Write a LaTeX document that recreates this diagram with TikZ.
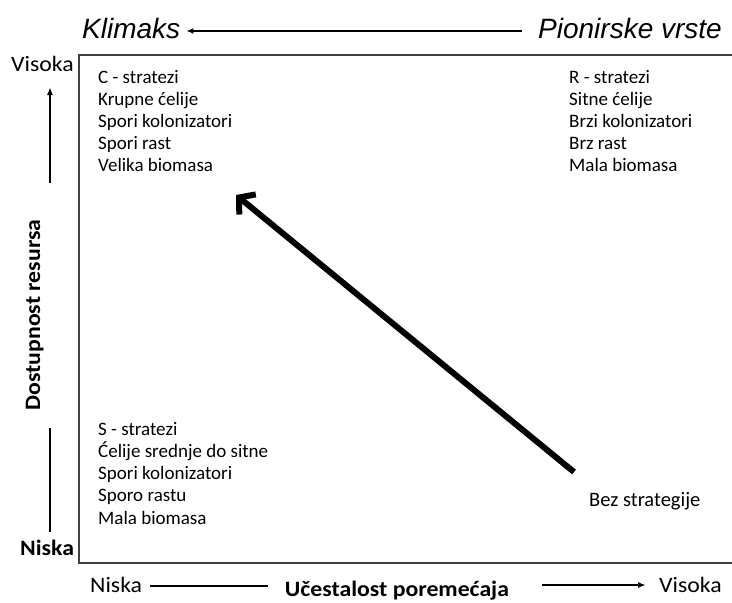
\documentclass[tikz,border=0pt]{standalone}
\usepackage{fontspec}
\setmainfont{Carlito}
\newfontfamily\arialfont{Liberation Sans}
\newfontfamily\axisfont{Carlito}[FakeStretch=1.08]
\usetikzlibrary{arrows.meta}

\begin{document}
\begin{tikzpicture}[
        x=1pt, y=-1pt,
        every node/.style={inner sep=0pt, font=\fontsize{19}{22}\selectfont},
        txt/.style={anchor=base west},
        bigtxt/.style={anchor=base west, font=\arialfont\itshape\fontsize{28}{30}\selectfont},
        axtxt/.style={anchor=base west, font=\axisfont\fontsize{22}{24}\selectfont},
        axbold/.style={font=\axisfont\bfseries\fontsize{22}{24}\selectfont},
        axis/.style={line width=1.8pt},
        frame/.style={line width=1.2pt, black!75}
    ]
    \useasboundingbox (0,0) rectangle (732,603);

    % Succession along the top
    \node[bigtxt] (klimaks) at (82,38) {Klimaks};
    \node[bigtxt] (pionir) at (538,38) {Pionirske vrste};
    \draw[axis, -{Latex[length=7pt,width=6pt]}, shorten <=16pt, shorten >=6pt]
        (pionir.west |- 0,31) -- (klimaks.east |- 0,31);

    % Frame of the diagram
    \draw[frame] (732,55) -- (79,55) -- (79,563) -- (732,563);

    % Vertical axis
    \node[axtxt] (yhigh) at (11,71) {Visoka};
    \node[axbold, anchor=base west] (ylow) at (20,555) {Niska};
    \node[axbold, anchor=base, rotate=90] (ylabel) at (40,315) {Dostupnost resursa};
    \coordinate (yup0) at (50,183);
    \coordinate (yup1) at (50,87);
    \coordinate (ydn0) at (50,428);
    \coordinate (ydn1) at (50,532);
    \draw[axis, -{Latex[length=8pt,width=6pt]}] (yup0) -- (yup1);
    \draw[axis] (ydn0) -- (ydn1);

    % Horizontal axis
    \node[axtxt] (xlow) at (90,592) {Niska};
    \node[axbold, anchor=base] (xlabel) at (397,596) {Učestalost poremećaja};
    \node[axtxt] (xhigh) at (659,592) {Visoka};
    \coordinate (xline1) at (268,586);
    \coordinate (xarr0) at (542,585);
    \draw[axis, shorten <=8pt] (xlow.east |- xline1) -- (xline1);
    \draw[axis, -{Latex[length=8pt,width=6pt]}, shorten >=13pt] (xarr0) -- (xhigh.west |- xarr0);

    % Strategies in the corners
    \foreach \t [count=\i] in {C - stratezi, Krupne ćelije, Spori kolonizatori, Spori rast, Velika biomasa}
        \node[txt] (c\i) at (98,61+22*\i) {\t};
    \foreach \t [count=\i] in {R - stratezi, Sitne ćelije, Brzi kolonizatori, Brz rast, Mala biomasa}
        \node[txt] (r\i) at (569,61+22*\i) {\t};
    \foreach \t [count=\i] in {S - stratezi, Ćelije srednje do sitne, Spori kolonizatori, Sporo rastu, Mala biomasa}
        \node[txt] (s\i) at (98,412.7+22.3*\i) {\t};
    \node[txt, font=\fontsize{20.5}{22}\selectfont] (bez) at (589,506) {Bez strategije};

    % Big arrow towards the C corner
    \coordinate (from) at (574,472);
    \coordinate (to) at (236,195);
    \draw[line width=6pt, -{Straight Barb[length=11pt,width=26pt]}] (from) -- (to);

\end{tikzpicture}
\end{document}
